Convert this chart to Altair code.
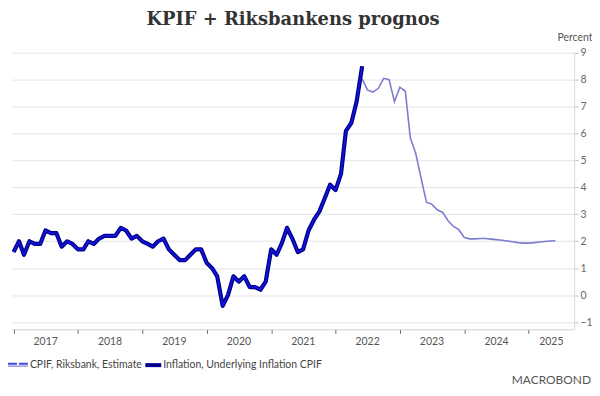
import altair as alt
import pandas as pd

# ---- data ----
kpif_start = "2017-01-01"
kpif = [
    1.6, 2.0, 1.5, 2.0, 1.9, 1.9, 2.4, 2.3, 2.3, 1.8, 2.0, 1.9,   # 2017
    1.7, 1.7, 2.0, 1.9, 2.1, 2.2, 2.2, 2.2, 2.5, 2.4, 2.1, 2.2,   # 2018
    2.0, 1.9, 1.8, 2.0, 2.1, 1.7, 1.5, 1.3, 1.3, 1.5, 1.7, 1.7,   # 2019
    1.2, 1.0, 0.7, -0.4, 0.0, 0.7, 0.5, 0.7, 0.3, 0.3, 0.2, 0.5,  # 2020
    1.7, 1.5, 1.9, 2.5, 2.1, 1.6, 1.7, 2.4, 2.8, 3.1, 3.6, 4.1,   # 2021
    3.9, 4.5, 6.1, 6.4, 7.2, 8.5,                                 # 2022
]
forecast_start = "2022-06-01"
riksbank = [
    8.03, 7.62, 7.54, 7.68, 8.05, 8.0, 7.19,
    7.72, 7.57, 5.84, 5.26, 4.35, 3.44, 3.38, 3.17, 3.07, 2.76, 2.55, 2.43,
    2.14, 2.09, 2.09, 2.10, 2.10, 2.08, 2.06, 2.04, 2.01, 1.98, 1.95, 1.93,
    1.93, 1.95, 1.97, 1.99, 2.01, 2.02,
]
years = [2017, 2018, 2019, 2020, 2021, 2022, 2023, 2024, 2025]
y_ticks = [-1, 0, 1, 2, 3, 4, 5, 6, 7, 8, 9]
series_names = ["CPIF, Riksbank, Estimate", "Inflation, Underlying Inflation CPIF"]

FMT = "%Y-%m-%dT00:00:00"
dom_end = pd.Timestamp("2025-09-15")


def monthly(start, vals):
    d = pd.date_range(start, periods=len(vals), freq="MS").strftime(FMT)
    return pd.DataFrame({"date": d, "value": vals})


df_actual = monthly(kpif_start, kpif)
df_fc = monthly(forecast_start, riksbank)

lab_rows = []
for y in years:
    a = pd.Timestamp(f"{y}-01-01")
    b = min(pd.Timestamp(f"{y + 1}-01-01"), dom_end)
    lab_rows.append({"pos": (a + (b - a) / 2).strftime(FMT), "label": str(y)})
df_lab = pd.DataFrame(lab_rows)

one = pd.DataFrame({"k": [0]})

W, H = 565, 278
FONT = "Lato"

xscale = alt.Scale(domain=[alt.DateTime(year=2016, month=12, date=23),
                           alt.DateTime(year=2025, month=9, date=15)])
yscale = alt.Scale(domain=[-1.27, 9], nice=False, zero=False)

xaxis = alt.Axis(values=[alt.DateTime(year=y, month=1, date=1) for y in years],
                 labels=False, grid=False, title=None, domainColor="#cfcfcf",
                 tickColor="#666666", tickSize=4)
yaxis = alt.Axis(orient="right", values=y_ticks, tickCount=11, grid=True,
                 gridColor="#e4e4e4",
                 domainColor="#dcdcdc", tickColor="#bdbdbd", tickSize=4,
                 labelPadding=2, labelColor="#666666", labelFont=FONT,
                 labelFontSize=10.5, labelOverlap=False, labelBound=False,
                 title="Percent", titleAngle=0,
                 titleAlign="right", titleBaseline="middle", titleX=18,
                 titleY=-15, titleFont=FONT, titleFontWeight="normal",
                 titleColor="#555555", titleFontSize=10.5)

X = alt.X("date:T", scale=xscale, axis=xaxis)
Y = alt.Y("value:Q", scale=yscale, axis=yaxis)

fc = alt.Chart(df_fc).mark_line(color="#7d7dcf", strokeWidth=1.6).encode(x=X, y=Y)
act_outer = alt.Chart(df_actual).mark_line(color="#00008b", strokeWidth=4.2,
                                           strokeJoin="round").encode(x=X, y=Y)
act_core = alt.Chart(df_actual).mark_line(color="#1414e0", strokeWidth=1.6,
                                          strokeJoin="round").encode(x=X, y=Y)

year_labels = alt.Chart(df_lab).mark_text(font=FONT, fontSize=10.5,
                                           color="#555555", baseline="middle").encode(
    x=alt.X("pos:T", scale=xscale, axis=xaxis), y=alt.value(H + 13), text="label:N")

# legend (drawn)
leg_y = H + 36
sw1a = alt.Chart(one).mark_rule(color="#3d4fe0", strokeWidth=2, strokeDash=[9, 2]).encode(
    x=alt.value(-4), x2=alt.value(16), y=alt.value(leg_y - 1.5))
sw1b = alt.Chart(one).mark_rule(color="#9c9cdc", strokeWidth=1.5).encode(
    x=alt.value(-4), x2=alt.value(16), y=alt.value(leg_y + 1))
t1 = alt.Chart(one).mark_text(font=FONT, fontSize=10.5, color="#444444", align="left",
                              baseline="middle", text=series_names[0]).encode(
    x=alt.value(18), y=alt.value(leg_y))
sw2 = alt.Chart(one).mark_rule(color="#00008b", strokeWidth=4).encode(
    x=alt.value(134), x2=alt.value(150), y=alt.value(leg_y))
t2 = alt.Chart(one).mark_text(font=FONT, fontSize=10.5, color="#444444", align="left",
                              baseline="middle", text=series_names[1]).encode(
    x=alt.value(152), y=alt.value(leg_y))
logo = alt.Chart(one).mark_text(font=FONT, fontSize=12, color="#555555", align="right",
                                baseline="middle", text="MACROBOND").encode(
    x=alt.value(W + 17), y=alt.value(H + 51))

chart = alt.layer(fc, act_outer, act_core, year_labels, sw1a, sw1b, t1, sw2, t2, logo).properties(
    width=W, height=H,
    autosize=alt.AutoSizeParams(type="none"),
    padding={"left": 4, "top": 44, "right": 18, "bottom": 58},
    title=alt.TitleParams("KPIF + Riksbankens prognos", font="DejaVu Serif", fontSize=18,
                          fontWeight="bold", color="#333333", anchor="middle",
                          frame="group", offset=4),
).configure_view(stroke=None)

chart.save("out.html", embed_options={"renderer": "svg", "actions": False})
